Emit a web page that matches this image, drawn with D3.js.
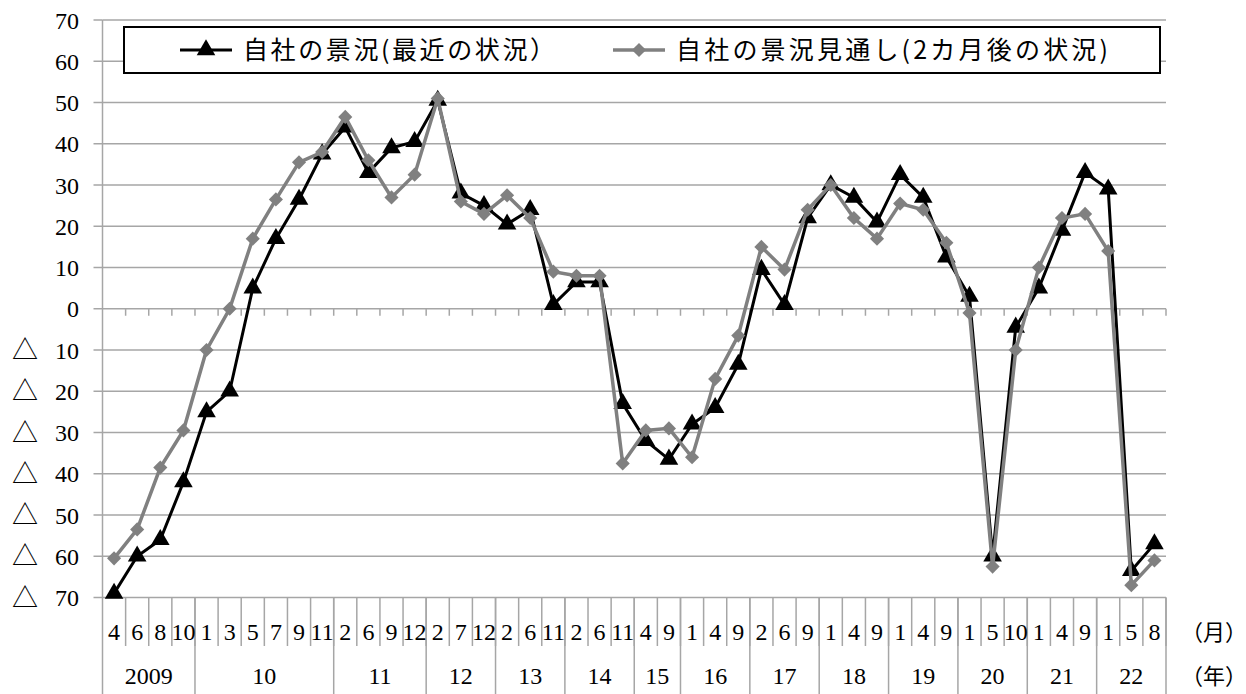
<!DOCTYPE html>
<html>
<head>
<meta charset="utf-8">
<script src="https://cdn.jsdelivr.net/npm/d3@7"></script>
<style>
  body { margin: 0; background: #fff; }
  text { font-family: "Liberation Serif", "DejaVu Serif", "Noto Sans CJK JP", serif; fill: #000; }
  .jp { font-family: "Noto Sans CJK JP", sans-serif; }
</style>
</head>
<body>
<div id="chart"></div>
<script>
// Month labels per point, and year groups
const months = [4,6,8,10, 1,3,5,7,9,11, 2,6,9,12, 2,7,12, 2,6,11, 2,6,11, 4,9, 1,4,9, 2,6,9, 1,4,9, 1,4,9, 1,5,10, 1,4,9, 1,5,8];
const yearLabels = ["2009","10","11","12","13","14","15","16","17","18","19","20","21","22"];
const yearCounts = [4,6,4,3,3,3,2,3,3,3,3,3,3,3];

// Series values
const recent = [-69,-60,-56,-42,-25,-20,5,17,26.5,37.5,44,33,39,40.5,50.5,28,25,20.5,24,1,6.5,6.5,-23,-32,-36.5,-28,-24,-13.5,9.5,1,22,30,27,21,32.5,27,12.5,3,-60,-4.5,5,19,33,29,-63.5,-57];
const outlook = [-60.5,-53.5,-38.5,-29.5,-10,0,17,26.5,35.5,38,46.5,36,27,32.5,51,26,23,27.5,22,9,8,8,-37.5,-29.5,-29,-36,-17,-6.5,15,9.5,24,30,22,17,25.5,24,16,-1,-62.5,-10,10,22,23,14,-67,-61];
const seriesNames = ["自社の景況(最近の状況）", "自社の景況見通し(2カ月後の状況)"];
const yTicks = [70,60,50,40,30,20,10,0,-10,-20,-30,-40,-50,-60,-70];

const W = 1246, H = 694;
const plotL = 102.5, plotR = 1166, plotT = 20, plotB = 597.5;

const svg = d3.select("#chart").append("svg")
    .attr("width", W).attr("height", H);

const x = d3.scaleBand()
    .domain(d3.range(months.length))
    .range([plotL, plotR])
    .padding(0);
const y = d3.scaleLinear().domain([-70, 70]).range([plotB, plotT]);
const cx = i => x(i) + x.bandwidth() / 2;
const edge = i => i === months.length ? plotR : x(i);

const grid = "#a6a6a6";

// Horizontal gridlines
svg.append("g").selectAll("line").data(yTicks).enter().append("line")
    .attr("x1", plotL).attr("x2", plotR)
    .attr("y1", d => y(d)).attr("y2", d => y(d))
    .attr("stroke", grid).attr("stroke-width", 1.5);

// Y axis line + ticks
svg.append("line").attr("x1", plotL).attr("x2", plotL).attr("y1", plotT).attr("y2", H)
    .attr("stroke", grid).attr("stroke-width", 1.5);
svg.append("g").selectAll("line").data(yTicks).enter().append("line")
    .attr("x1", plotL - 9).attr("x2", plotL)
    .attr("y1", d => y(d)).attr("y2", d => y(d))
    .attr("stroke", grid).attr("stroke-width", 1.5);

// Y labels (negative shown as △)
const yl = svg.append("g").selectAll("g").data(yTicks).enter().append("g");
yl.append("text")
    .attr("x", 79).attr("y", d => y(d) + 8.5)
    .attr("text-anchor", "end").attr("font-size", 24)
    .text(d => Math.abs(d));
yl.filter(d => d < 0).append("text")
    .attr("class", "jp")
    .attr("x", 25).attr("y", d => y(d) + 9)
    .attr("text-anchor", "middle").attr("font-size", 26)
    .text("△");

// Ticks on the zero line
svg.append("g").selectAll("line").data(d3.range(1, months.length + 1)).enter().append("line")
    .attr("x1", edge).attr("x2", edge)
    .attr("y1", y(0)).attr("y2", y(0) + 7)
    .attr("stroke", grid).attr("stroke-width", 1.5);

// Month separators (month row)
svg.append("g").selectAll("line").data(d3.range(1, months.length + 1)).enter().append("line")
    .attr("x1", edge).attr("x2", edge)
    .attr("y1", plotB).attr("y2", 646)
    .attr("stroke", grid).attr("stroke-width", 1.5);

// Year separators (full height)
const yearStart = [0];
yearCounts.forEach((c, i) => yearStart.push(yearStart[i] + c));
svg.append("g").selectAll("line").data(yearStart.slice(1)).enter().append("line")
    .attr("x1", edge).attr("x2", edge)
    .attr("y1", plotB).attr("y2", H)
    .attr("stroke", grid).attr("stroke-width", 1.5);

// Month labels
svg.append("g").selectAll("text").data(months).enter().append("text")
    .attr("x", (d, i) => cx(i)).attr("y", 640)
    .attr("text-anchor", "middle").attr("font-size", 24)
    .text(d => d);

// Year labels
svg.append("g").selectAll("text").data(yearLabels).enter().append("text")
    .attr("x", (d, i) => (edge(yearStart[i]) + edge(yearStart[i + 1])) / 2)
    .attr("y", 684)
    .attr("text-anchor", "middle").attr("font-size", 24)
    .text(d => d);

svg.append("text").attr("class", "jp").attr("x", 1214).attr("y", 640)
    .attr("text-anchor", "middle").attr("font-size", 22).text("（月）");
svg.append("text").attr("class", "jp").attr("x", 1214).attr("y", 684)
    .attr("text-anchor", "middle").attr("font-size", 22).text("（年）");

// Series
const line = d3.line().x((d, i) => cx(i)).y(d => y(d));
const tri = d3.symbol().type(d3.symbolTriangle).size(150);
const dia = d3.symbol().type(d3.symbolSquare).size(100);

svg.append("path").datum(recent).attr("d", line)
    .attr("fill", "none").attr("stroke", "#000").attr("stroke-width", 3);
svg.append("g").selectAll("path").data(recent).enter().append("path")
    .attr("d", tri)
    .attr("transform", (d, i) => `translate(${cx(i)},${y(d)})`)
    .attr("fill", "#000");

svg.append("path").datum(outlook).attr("d", line)
    .attr("fill", "none").attr("stroke", "#808080").attr("stroke-width", 3.5);
svg.append("g").selectAll("path").data(outlook).enter().append("path")
    .attr("d", dia)
    .attr("transform", (d, i) => `translate(${cx(i)},${y(d)}) rotate(45)`)
    .attr("fill", "#808080");

// Legend
const lg = svg.append("g");
lg.append("rect").attr("x", 124).attr("y", 27).attr("width", 1036).attr("height", 46)
    .attr("fill", "#fff").attr("stroke", "#000").attr("stroke-width", 2);
const items = [
  { x0: 180, tx: 243, tw: 312, color: "#000", sym: tri, rot: 0, sw: 3 },
  { x0: 613, tx: 676, tw: 432, color: "#808080", sym: dia, rot: 45, sw: 3.5 }
];
items.forEach((it, k) => {
  lg.append("line").attr("x1", it.x0).attr("x2", it.x0 + 52)
      .attr("y1", 50).attr("y2", 50)
      .attr("stroke", it.color).attr("stroke-width", it.sw);
  lg.append("path").attr("d", it.sym)
      .attr("transform", `translate(${it.x0 + 26},50) rotate(${it.rot})`)
      .attr("fill", it.color);
  lg.append("text").attr("class", "jp")
      .attr("x", it.tx).attr("y", 59)
      .attr("font-size", 25)
      .attr("textLength", it.tw).attr("lengthAdjust", "spacing")
      .text(seriesNames[k]);
});
</script>
</body>
</html>
